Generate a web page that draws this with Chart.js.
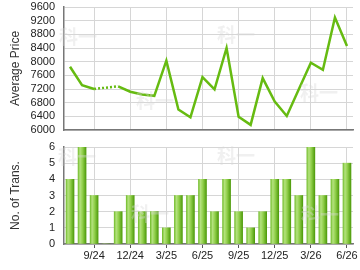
<!DOCTYPE html>
<html>
<head>
<meta charset="utf-8">
<script src="https://cdn.jsdelivr.net/npm/chart.js@4.4.1/dist/chart.umd.min.js"></script>
<style>
  html, body { margin: 0; padding: 0; background: #fff; }
  #wrap { position: relative; width: 360px; height: 270px; }
  #priceBox { position: absolute; left: 0; top: 0; width: 360px; height: 137px; }
  #transBox { position: absolute; left: 0; top: 137px; width: 360px; height: 133px; }
</style>
</head>
<body>
<div id="wrap">
  <div id="priceBox"><canvas id="priceChart" width="360" height="137"></canvas></div>
  <div id="transBox"><canvas id="transChart" width="360" height="133"></canvas></div>
</div>
<script>
/* DATA */
const months = [
  "7/24", "8/24", "9/24", "10/24", "11/24", "12/24",
  "1/25", "2/25", "3/25", "4/25", "5/25", "6/25",
  "7/25", "8/25", "9/25", "10/25", "11/25", "12/25",
  "1/26", "2/26", "3/26", "4/26", "5/26", "6/26",
];
// average price (null = no transactions that month)
const avgPrice = [
  7850, 7310, 7200, null, 7280, 7120,
  7040, 7000, 8030, 6600, 6370, 7550,
  7190, 8400, 6390, 6150, 7520, 6830,
  6410, 7190, 7970, 7760, 9290, 8460,
];
const transCount = [
  4, 6, 3, 0, 2, 3,
  2, 2, 1, 3, 3, 4,
  2, 4, 2, 1, 2, 4,
  4, 3, 6, 3, 4, 5,
];
const priceTicks = [6000, 6400, 6800, 7200, 7600, 8000, 8400, 8800, 9200, 9600];
const transTicks = [0, 1, 2, 3, 4, 5, 6];

/* COMMON STYLE */
const GRID = "#d6d6d6";
const AXIS = "#777";
const FONT = "'Liberation Sans', Arial, sans-serif";
const TEXT = "#222";

// only every third month gets a grid line / label
const showTick = (i) => i % 3 === 2;

// fixed axis boxes, no extra room for overhanging labels
function noOverhang(scale) {
  scale.paddingTop = 0;
  scale.paddingBottom = 0;
  scale.paddingLeft = 0;
  scale.paddingRight = 0;
}
function fixedWidth(w) {
  return (scale) => { scale.width = w; noOverhang(scale); };
}
function fixedHeight(h) {
  return (scale) => { scale.height = h; noOverhang(scale); };
}
function setTicks(list) {
  return (scale) => { scale.ticks = list.map((v) => ({ value: v })); };
}

// dotted line across the month with no price
function gapDash(ctx) {
  if (ctx.p0.skip || ctx.p1.skip || ctx.p1DataIndex - ctx.p0DataIndex > 1) return [2, 2];
  return undefined;
}

// faint site watermark laid over the plot
const watermark = {
  id: "watermark",
  afterDraw(chart, args, opts) {
    const c = chart.ctx;
    c.save();
    c.font = "bold 19px 'Noto Sans CJK SC', sans-serif";
    c.fillStyle = "rgba(215,215,215,0.38)";
    c.textAlign = "center";
    c.textBaseline = "middle";
    opts.spots.forEach((p) => c.fillText("科一", p[0], p[1]));
    c.restore();
  },
};

/* PRICE LINE CHART */
const priceChart = new Chart(document.getElementById("priceChart"), {
  type: "line",
  data: {
    labels: months,
    datasets: [
      {
        data: avgPrice,
        borderColor: "#66bb11",
        borderWidth: 2.5,
        pointRadius: 0,
        tension: 0,
        spanGaps: true,
        segment: { borderDash: gapDash },
      },
    ],
  },
  plugins: [watermark],
  options: {
    responsive: false,
    animation: false,
    layout: { padding: { top: 7, right: 7, left: 0, bottom: 0 } },
    plugins: {
      legend: { display: false },
      tooltip: { enabled: false },
      watermark: { spots: [[78, 37], [155, 101], [236, 35], [319, 93]] },
    },
    scales: {
      x: {
        offset: true,
        afterFit: fixedHeight(7),
        grid: {
          offset: false,
          color: (ctx) => (showTick(ctx.index) ? GRID : "transparent"),
          drawTicks: false,
        },
        border: { color: AXIS, width: 1.5 },
        ticks: { display: false, autoSkip: false },
      },
      y: {
        min: 6000,
        max: 9600,
        afterFit: fixedWidth(64),
        afterBuildTicks: setTicks(priceTicks),
        grid: { color: GRID, drawTicks: false },
        border: { color: AXIS, width: 1.5 },
        ticks: {
          autoSkip: false,
          color: TEXT,
          font: { family: FONT, size: 11 },
          padding: 9,
          callback: (v) => String(v),
        },
        title: {
          display: true,
          text: "Average Price",
          color: "#333",
          font: { family: FONT, size: 12 },
          padding: { top: 8, bottom: 0 },
        },
      },
    },
  },
});

/* TRANSACTIONS BAR CHART */
function barGradient(ctx) {
  const chart = ctx.chart;
  const xScale = chart.scales.x;
  if (!xScale || ctx.dataIndex === undefined) return "#8ccc44";
  const cx = xScale.getPixelForValue(ctx.dataIndex);
  if (!isFinite(cx)) return "#8ccc44";
  const g = chart.ctx.createLinearGradient(cx - 4, 0, cx + 4, 0);
  g.addColorStop(0, "#76bf30");
  g.addColorStop(0.25, "#b4e27e");
  g.addColorStop(0.55, "#92d04c");
  g.addColorStop(1, "#4f9c0c");
  return g;
}

const transChart = new Chart(document.getElementById("transChart"), {
  type: "bar",
  data: {
    labels: months,
    datasets: [
      {
        data: transCount,
        backgroundColor: barGradient,
        borderWidth: 0,
        barThickness: 8,
      },
    ],
  },
  plugins: [watermark],
  options: {
    responsive: false,
    animation: false,
    layout: { padding: { top: 10, right: 7, left: 0, bottom: 0 } },
    plugins: {
      legend: { display: false },
      tooltip: { enabled: false },
      watermark: { spots: [[77, 20], [150, 77], [236, 19], [320, 78]] },
    },
    scales: {
      x: {
        afterFit: fixedHeight(26),
        grid: {
          offset: false,
          color: (ctx) => (showTick(ctx.index) ? GRID : "transparent"),
          tickColor: (ctx) => (showTick(ctx.index) ? "#555" : "transparent"),
          tickLength: 4,
        },
        border: { color: AXIS, width: 1.5 },
        ticks: {
          autoSkip: false,
          maxRotation: 0,
          padding: 1,
          color: TEXT,
          font: { family: FONT, size: 11 },
          callback: (v, i) => (showTick(i) ? months[i] : ""),
        },
      },
      y: {
        min: 0,
        max: 6,
        afterFit: fixedWidth(64),
        afterBuildTicks: setTicks(transTicks),
        grid: { color: GRID, drawTicks: false },
        border: { color: AXIS, width: 1.5 },
        ticks: {
          autoSkip: false,
          color: TEXT,
          font: { family: FONT, size: 11 },
          padding: 9,
        },
        title: {
          display: true,
          text: "No. of Trans.",
          color: "#333",
          font: { family: FONT, size: 12 },
          padding: { top: 8, bottom: 0 },
        },
      },
    },
  },
});
</script>
</body>
</html>
